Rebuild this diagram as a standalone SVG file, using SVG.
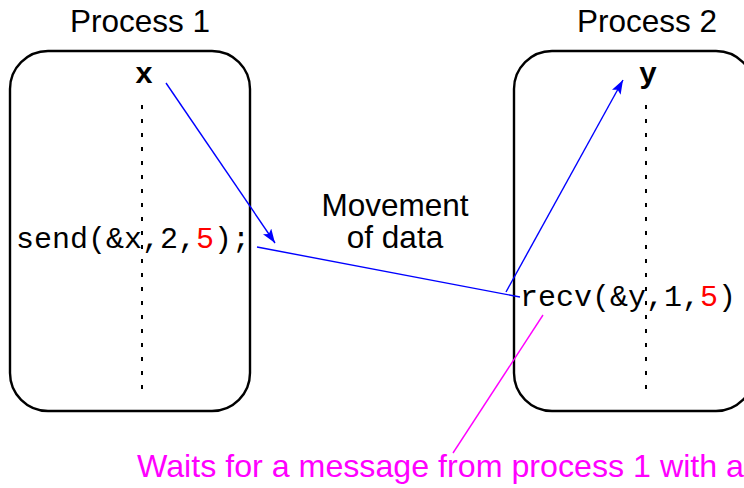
<svg xmlns="http://www.w3.org/2000/svg" width="744" height="488" viewBox="0 0 744 488">
  <style>
    .box { fill: none; stroke: #000; stroke-width: 2.4; }
    .timeline { stroke: #000; stroke-width: 2; stroke-dasharray: 4 10; }
    .title { font-family: "Liberation Sans", Arial, sans-serif; font-size: 31.5px; fill: #000; }
    .label { font-family: "Liberation Sans", Arial, sans-serif; font-size: 31.5px; fill: #000; }
    .code { font-family: "Liberation Mono", "Courier New", monospace; font-size: 30px; fill: #000; }
    .var { font-family: "Liberation Mono", "Courier New", monospace; font-size: 30px; font-weight: bold; fill: #000; }
    .tag { fill: #ff0000; }
    .flow { stroke: #0000ff; stroke-width: 1.4; fill: none; }
    .note-line { stroke: #ff00ff; stroke-width: 1.4; }
    .note { font-family: "Liberation Sans", Arial, sans-serif; font-size: 32.2px; fill: #ff00ff; }
  </style>
  <defs>
    <marker id="arrow" markerUnits="userSpaceOnUse" markerWidth="16" markerHeight="12" refX="14" refY="5" orient="auto">
      <path d="M0,0 L14,5 L0,10 L3,5 z" fill="#0000ff"/>
    </marker>
  </defs>

  <g id="process1">
    <text class="title" x="140" y="32" text-anchor="middle">Process 1</text>
    <rect class="box" x="10" y="51" width="240" height="360" rx="38" ry="38"/>
    <line class="timeline" x1="142" y1="105" x2="142" y2="392"/>
    <text class="var" x="144" y="83" text-anchor="middle">x</text>
    <text class="code" x="16" y="248">send(&amp;x,2,<tspan class="tag">5</tspan>);</text>
  </g>

  <g id="process2">
    <text class="title" x="647" y="32" text-anchor="middle">Process 2</text>
    <rect class="box" x="514" y="51" width="240" height="360" rx="38" ry="38"/>
    <line class="timeline" x1="646" y1="105" x2="646" y2="392"/>
    <text class="var" x="648" y="83" text-anchor="middle">y</text>
    <text class="code" x="520" y="306">recv(&amp;y,1,<tspan class="tag">5</tspan>)</text>
  </g>

  <!-- two-line caption between the boxes -->
  <g id="movement-label">
    <text class="label" x="395" y="216" text-anchor="middle">Movement</text>
    <text class="label" x="395" y="248" text-anchor="middle">of data</text>
  </g>

  <g id="connectors">
    <line class="flow" x1="166" y1="83" x2="275" y2="243" marker-end="url(#arrow)"/>
    <line class="flow" x1="257" y1="247" x2="520" y2="297"/>
    <line class="flow" x1="506" y1="292" x2="623" y2="80" marker-end="url(#arrow)"/>
    <line class="note-line" x1="543" y1="315" x2="453" y2="453"/>
  </g>

  <g id="note">
    <text class="note" x="137" y="477">Waits for a message from process 1 with a</text>
  </g>
</svg>
